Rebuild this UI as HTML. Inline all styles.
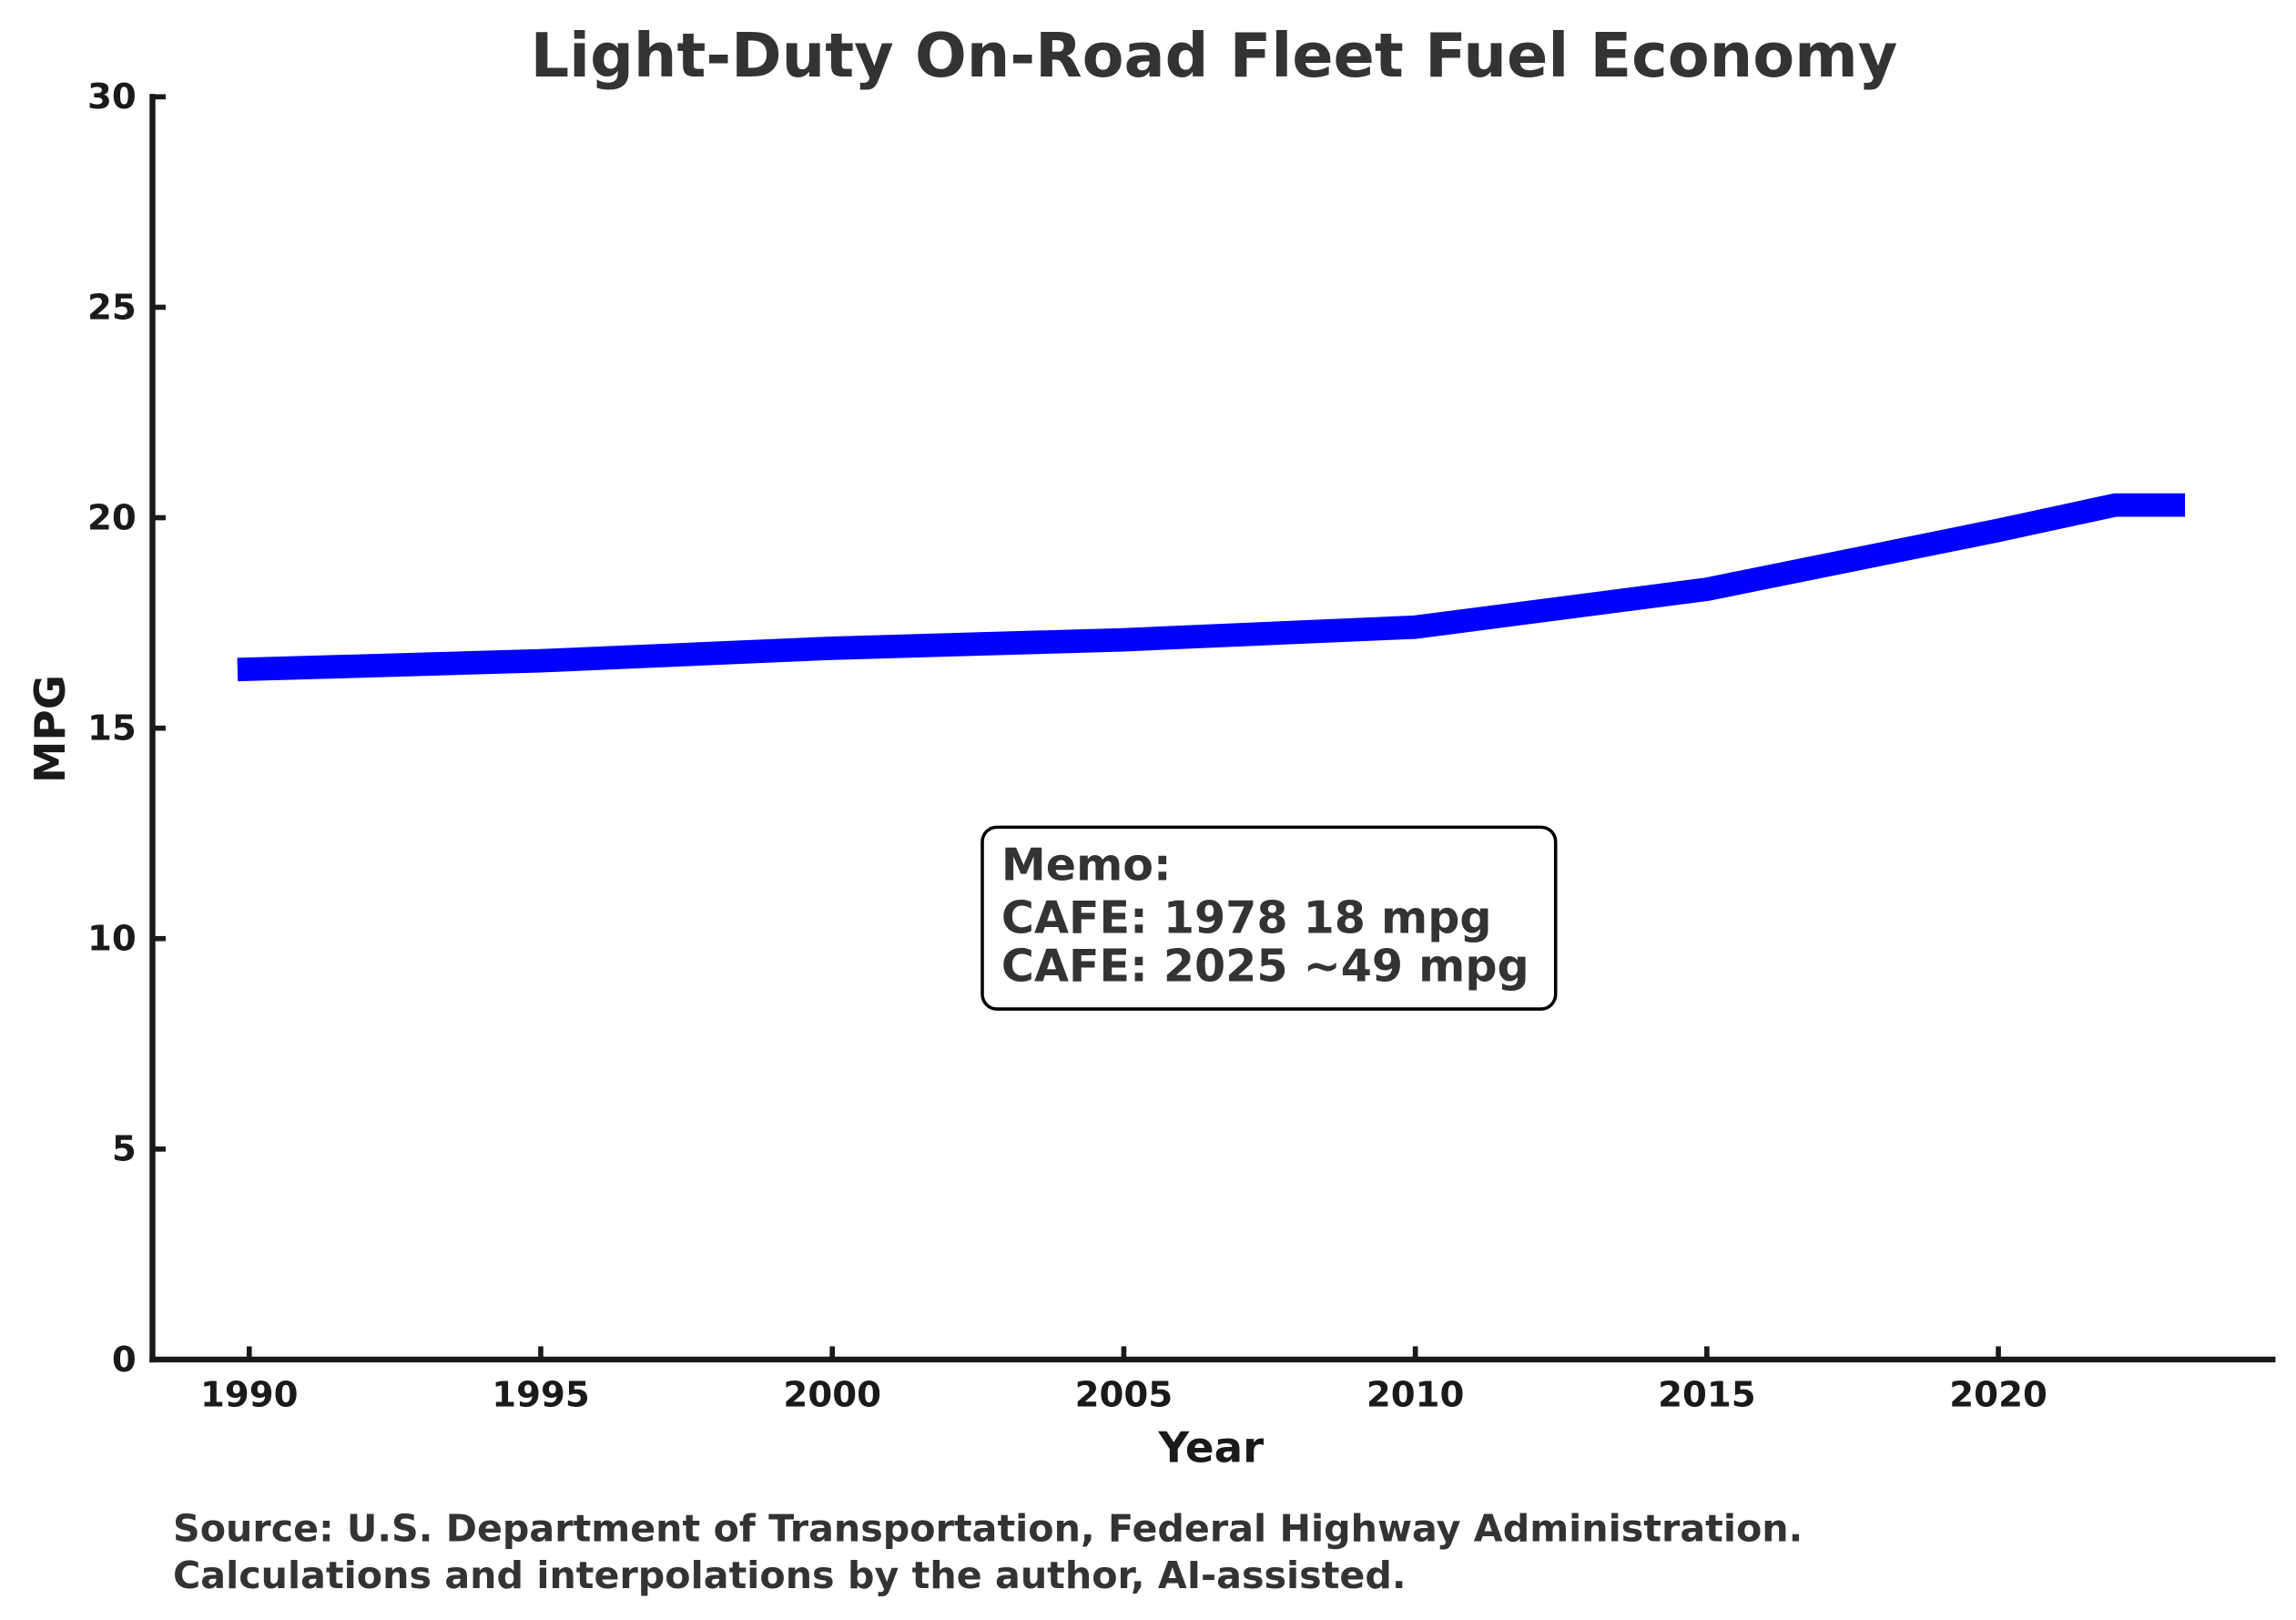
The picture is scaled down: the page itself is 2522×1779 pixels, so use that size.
<!DOCTYPE html>
<html><head><meta charset="utf-8"><style>
html,body{margin:0;padding:0;background:#fff;}
svg{display:block;font-family:"DejaVu Sans","Liberation Sans",sans-serif;font-weight:bold;}
</style></head><body>
<svg id="chart" width="2522" height="1779" viewBox="0 0 1566 1104.6" xmlns="http://www.w3.org/2000/svg">
<rect width="1566" height="1104.6" fill="#fff"/>
<text x="828" y="52" text-anchor="middle" font-size="41.5" fill="#333">Light-Duty On-Road Fleet Fuel Economy</text>
<g id="axes"></g>
<g id="series"></g>
<g>
<rect x="670" y="564" width="391" height="124" rx="10" fill="#fff" stroke="#000" stroke-width="2.2"/>
<text x="683" y="600" font-size="30.5" fill="#333">Memo:</text>
<text x="683" y="636" font-size="30.5" fill="#333">CAFE: 1978 18 mpg</text>
<text x="683" y="669" font-size="30.5" fill="#333">CAFE: 2025 ~49 mpg</text>
</g>
<text x="826" y="997" text-anchor="middle" font-size="29" fill="#1a1a1a">Year</text>
<text transform="translate(44,497) rotate(-90)" text-anchor="middle" font-size="29" fill="#1a1a1a">MPG</text>
<text x="118" y="1051" font-size="25.6" fill="#333">Source: U.S. Department of Transportation, Federal Highway Administration.</text>
<text x="118" y="1083" font-size="25.6" fill="#333">Calculations and interpolations by the author, AI-assisted.</text>
</svg>
<script>
const years = [1990, 1995, 2000, 2005, 2010, 2015, 2020, 2022, 2023];
const mpg = [16.4, 16.6, 16.9, 17.1, 17.4, 18.3, 19.7, 20.3, 20.3];
const xTicks = [1990, 1995, 2000, 2005, 2010, 2015, 2020];
const yTicks = [0, 5, 10, 15, 20, 25, 30];

const NS = "http://www.w3.org/2000/svg";
const X0 = 170, PX_PER_YEAR = (1363 - 170) / 30;
const Y0 = 927, PX_PER_UNIT = (927 - 66) / 30;
function xs(v){ return X0 + (v - 1990) * PX_PER_YEAR; }
function ys(v){ return Y0 - v * PX_PER_UNIT; }
function mk(tag, attrs, parent){
  const e = document.createElementNS(NS, tag);
  for (const k in attrs) e.setAttribute(k, attrs[k]);
  parent.appendChild(e);
  return e;
}
const axes = document.getElementById('axes');
const ySpine = mk('line', {x1:104, y1:ys(30)-2, x2:104, y2:Y0+2, stroke:'#1a1a1a', 'stroke-width':4}, axes);


const xSpine = mk('line', {x1:102, y1:Y0, x2:1552, y2:Y0, stroke:'#1a1a1a', 'stroke-width':4}, axes);


yTicks.forEach(v => {
  const t = mk('line', {x1:104, y1:ys(v), x2:113, y2:ys(v), stroke:'#1a1a1a', 'stroke-width':3.5}, axes);
  
  
  const l = mk('text', {x:93, y:ys(v)+8, 'text-anchor':'end', 'font-size':24, fill:'#1a1a1a'}, axes);
  l.textContent = v;
  
  
});
xTicks.forEach(v => {
  const t = mk('line', {x1:xs(v), y1:Y0, x2:xs(v), y2:Y0-9, stroke:'#1a1a1a', 'stroke-width':3.5}, axes);
  
  
  const l = mk('text', {x:xs(v), y:Y0+32, 'text-anchor':'middle', 'font-size':24, fill:'#1a1a1a'}, axes);
  l.textContent = v;
  
  
});
const series = document.getElementById('series');
const pts = years.map((y, i) => xs(y) + ',' + ys(mpg[i])).join(' ');
const line = mk('polyline', {points:pts, fill:'none', stroke:'#0000ff', 'stroke-width':16, 'stroke-linecap':'square', 'stroke-linejoin':'round'}, series);


</script>
</body></html>
